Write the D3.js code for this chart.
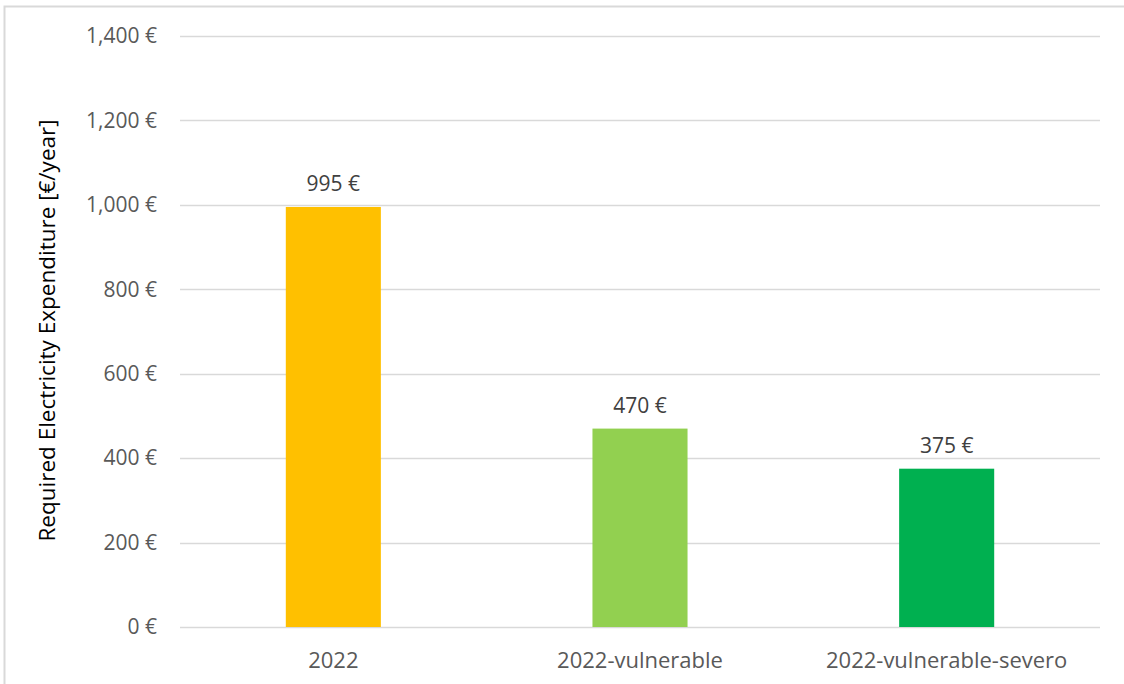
<!DOCTYPE html>
<html>
<head>
<meta charset="utf-8">
<script src="https://cdn.jsdelivr.net/npm/d3@7"></script>
<style>
  html, body { margin: 0; padding: 0; background: #fff; }
  svg { display: block; font-family: "Open Sans", sans-serif; }
</style>
</head>
<body>
<div id="chart"></div>
<script>
const categories = ["2022", "2022-vulnerable", "2022-vulnerable-severo"];
const values = [995, 470, 375];
const barColors = ["#FFC000", "#92D050", "#00B050"];
const yTicks = [0, 200, 400, 600, 800, 1000, 1200, 1400];

const width = 1124, height = 684;
const margin = {top: 36, right: 24, bottom: 57, left: 180};

const svg = d3.select("#chart").append("svg")
    .attr("width", width)
    .attr("height", height);

// chart area frame (only top and left visible in the crop)
svg.append("rect")
    .attr("x", 4.5).attr("y", 6.5)
    .attr("width", width + 10).attr("height", height + 10)
    .attr("fill", "none")
    .attr("stroke", "#d9d9d9")
    .attr("stroke-width", 2);

const x = d3.scaleBand()
    .domain(categories)
    .range([margin.left, width - margin.right])
    .paddingInner(0.69)
    .paddingOuter(0.345);

const y = d3.scaleLinear()
    .domain([0, 1400])
    .range([height - margin.bottom, margin.top]);

const fmt = v => d3.format(",")(v) + " €";

// gridlines
svg.append("g")
  .selectAll("line")
  .data(yTicks)
  .join("line")
    .attr("x1", margin.left)
    .attr("x2", width - margin.right)
    .attr("y1", d => Math.round(y(d)) + 0.5)
    .attr("y2", d => Math.round(y(d)) + 0.5)
    .attr("stroke", "#d9d9d9")
    .attr("stroke-width", 1.5);

// y tick labels
svg.append("g")
    .attr("text-anchor", "end")
    .attr("fill", "#595959")
    .style("font-size", "21px")
  .selectAll("text")
  .data(yTicks)
  .join("text")
    .attr("x", 157)
    .attr("y", d => y(d))
    .attr("dy", "0.35em")
    .text(d => fmt(d));

// bars
svg.append("g")
  .selectAll("rect")
  .data(values)
  .join("rect")
    .attr("x", (d, i) => x(categories[i]))
    .attr("y", d => y(d))
    .attr("width", x.bandwidth())
    .attr("height", d => y(0) - y(d))
    .attr("fill", (d, i) => barColors[i]);

// value labels
svg.append("g")
    .attr("text-anchor", "middle")
    .attr("fill", "#404040")
    .style("font-size", "21px")
  .selectAll("text")
  .data(values)
  .join("text")
    .attr("x", (d, i) => x(categories[i]) + x.bandwidth() / 2)
    .attr("y", d => y(d) - 16)
    .text(d => fmt(d));

// category labels
svg.append("g")
    .attr("text-anchor", "middle")
    .attr("fill", "#595959")
    .style("font-size", "22px")
  .selectAll("text")
  .data(categories)
  .join("text")
    .attr("x", d => x(d) + x.bandwidth() / 2)
    .attr("y", 668)
    .text(d => d);

// y axis title
svg.append("text")
    .attr("transform", `translate(55,${(margin.top + height - margin.bottom) / 2 - 1}) rotate(-90)`)
    .attr("text-anchor", "middle")
    .attr("fill", "#000")
    .style("font-size", "22.5px")
    .text("Required Electricity Expenditure [€/year]");
</script>
</body>
</html>
